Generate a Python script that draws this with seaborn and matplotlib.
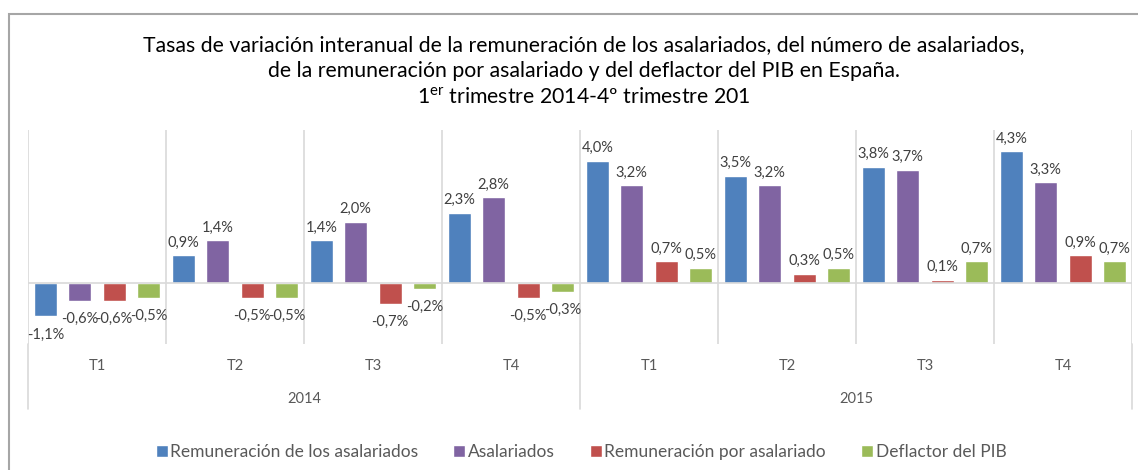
import numpy as np
import pandas as pd
import seaborn as sns
import matplotlib.pyplot as plt
from matplotlib.patches import Rectangle
from matplotlib.transforms import blended_transform_factory

# Data
years = ['2014', '2015']
quarters = ['T1', 'T2', 'T3', 'T4']
series = ['Remuneración de los asalariados', 'Asalariados',
          'Remuneración por asalariado', 'Deflactor del PIB']
remuneracion = [-1.1, 0.9, 1.4, 2.3, 4.0, 3.5, 3.8, 4.3]
asalariados = [-0.6, 1.4, 2.0, 2.8, 3.2, 3.2, 3.7, 3.3]
rem_por_asal = [-0.6, -0.5, -0.7, -0.5, 0.7, 0.3, 0.1, 0.9]
deflactor = [-0.5, -0.5, -0.2, -0.3, 0.5, 0.5, 0.7, 0.7]
colors = ['#4F81BD', '#8064A2', '#C0504D', '#9BBB59']

periods = [f'{y} {q}' for y in years for q in quarters]
values = [remuneracion, asalariados, rem_por_asal, deflactor]
df = pd.DataFrame({
    'periodo': periods * len(series),
    'serie': np.repeat(series, len(periods)),
    'valor': np.concatenate(values),
})

sns.set_theme(style='white')
FONT = 'Lato'
plt.rcParams['font.family'] = [FONT, 'DejaVu Sans']
plt.rcParams['mathtext.fontset'] = 'custom'
plt.rcParams['mathtext.rm'] = FONT

W, H = 1138, 470
fig = plt.figure(figsize=(W / 100, H / 100), dpi=100)
ax = fig.add_axes([28 / W, 1 - 344 / H, (1132 - 28) / W, (344 - 130) / H])

sns.barplot(data=df, x='periodo', y='valor', hue='serie', order=periods,
            hue_order=series, palette=colors, width=1.0, gap=1 / 3,
            saturation=1, ax=ax, legend=True)

ax.set_ylim(-2, 5)
ax.set_xlim(-0.5, len(periods) - 0.5)
ax.set_yticks([])
ax.set_xlabel('')
ax.set_ylabel('')
for s in ax.spines.values():
    s.set_visible(False)

grid_c = '#D9D9D9'
ax.axhline(0, color=grid_c, lw=1.2, zorder=1)
for i in range(len(periods) + 1):
    ax.axvline(i - 0.5, color=grid_c, lw=1.2, zorder=0)

# year separators extend below the quarter labels
ax_h_px = 344 - 130
trans = blended_transform_factory(ax.transData, ax.transAxes)
for k in range(len(years) + 1):
    x = k * len(quarters) - 0.5
    ax.plot([x, x], [0, -65 / ax_h_px], color=grid_c, lw=1.2,
            transform=trans, clip_on=False)

ax.set_xticks(range(len(periods)))
ax.set_xticklabels(quarters * len(years))
ax.tick_params(axis='x', length=0, pad=11, labelsize=10.5, labelcolor='#595959')

for k, y in enumerate(years):
    xc = k * len(quarters) + (len(quarters) - 1) / 2
    ax.annotate(y, xy=(xc, 0), xycoords=trans, xytext=(0, -55 * 0.72),
                textcoords='offset points', ha='center', va='center',
                fontsize=10.5, color='#595959')

# data labels
for cont, vals in zip(ax.containers, values):
    for bar, v in zip(cont, vals):
        x = bar.get_x() + bar.get_width() / 2
        txt = f'{v:.1f}'.replace('.', ',') + '%'
        off = 4 if v >= 0 else -8
        ax.annotate(txt, xy=(x, v), xytext=(0, off), textcoords='offset points',
                    ha='center', va='bottom' if v >= 0 else 'top',
                    fontsize=10.5, color='#404040')

handles, labels = ax.get_legend_handles_labels()
ax.get_legend().remove()
fig.legend(handles, labels, loc='center', bbox_to_anchor=(581 / W, 1 - 452 / H),
           ncol=4, frameon=False, fontsize=12.5, labelcolor='#595959',
           handlelength=0.7, handleheight=0.7, handletextpad=0.15,
           columnspacing=2.0)

# title
tc = '#000000'
tfs = 15.3
fig.text(584 / W, 1 - 45 / H,
         'Tasas de variación interanual de la remuneración de los asalariados, '
         'del número de asalariados,', ha='center', va='center', fontsize=tfs, color=tc)
fig.text(584 / W, 1 - 71 / H,
         'de la remuneración por asalariado y del deflactor del PIB en España.',
         ha='center', va='center', fontsize=tfs, color=tc)
fig.text(584 / W, 1 - 97 / H,
         r'1$^{\mathrm{er}}$ trimestre 2014-4º trimestre 201',
         ha='center', va='center', fontsize=tfs, color=tc)

fig.patches.append(Rectangle((9 / W, -0.1), 1.0, 1 - 14 / H + 0.1,
                             transform=fig.transFigure, fill=False,
                             edgecolor='#A6A6A6', lw=1.5))

fig.savefig('out.png', dpi=100)
